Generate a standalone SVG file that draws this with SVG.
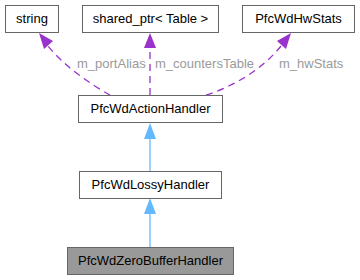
<svg xmlns="http://www.w3.org/2000/svg" width="360" height="280" viewBox="0 0 360 280">
  <style>
    .box { fill: #ffffff; stroke: #666666; stroke-width: 1; }
    .box.sel { fill: #999999; }
    .name { font-family: "Liberation Sans", Arial, sans-serif; font-size: 13px; fill: #000000; text-anchor: middle; }
    .lbl { font-family: "Liberation Sans", Arial, sans-serif; font-size: 13px; fill: #9a9a9a; }
    .use { fill: none; stroke: #9a32cd; stroke-width: 1.3; stroke-dasharray: 7,5; }
    .inh { fill: none; stroke: #63b8ff; stroke-width: 1.3; }
  </style>
  <defs>
    <marker id="headUse" viewBox="0 0 10 10" refX="10" refY="5" markerWidth="10" markerHeight="10" markerUnits="userSpaceOnUse" orient="auto">
      <path d="M0,0 L10,5 L0,10 Z" fill="#9a32cd"/>
    </marker>
  </defs>
  <rect width="360" height="280" fill="#ffffff"/>

  <g id="connectors">
    <!-- usage relations (dashed) -->
    <path class="use" d="M110,95 C90,84 64,66 48,46"/>
    <polygon points="39,33 53,41 44,49" fill="#9a32cd"/>
    <path class="use" d="M150,95 L150,47"/>
    <polygon points="150,33 156,48 144,48" fill="#9a32cd"/>
    <path class="use" d="M206,95 C232,87 262,70 281,46"/>
    <polygon points="291,33 286,49 277,41" fill="#9a32cd"/>
    <text class="lbl" x="77" y="68">m_portAlias</text>
    <text class="lbl" x="155" y="68">m_countersTable</text>
    <text class="lbl" x="279" y="68">m_hwStats</text>
    <!-- inheritance -->
    <path class="inh" d="M150,172 L150,137"/>
    <polygon points="150,123 156,139 144,139" fill="#63b8ff"/>
    <path class="inh" d="M150,248 L150,212"/>
    <polygon points="150,198 156,214 144,214" fill="#63b8ff"/>
  </g>

  <g id="node-string">
    <rect class="box" x="5.5" y="5.5" width="53" height="27"/>
    <text class="name" x="32" y="23">string</text>
  </g>
  <g id="node-shared-ptr">
    <rect class="box" x="82.5" y="5.5" width="136" height="27"/>
    <text class="name" x="150.5" y="23">shared_ptr&lt; Table &gt;</text>
  </g>
  <g id="node-hwstats">
    <rect class="box" x="242.5" y="5.5" width="112" height="27"/>
    <text class="name" x="298.5" y="23">PfcWdHwStats</text>
  </g>
  <g id="node-action">
    <rect class="box" x="78.5" y="95.5" width="144" height="27"/>
    <text class="name" x="150.5" y="113">PfcWdActionHandler</text>
  </g>
  <g id="node-lossy">
    <rect class="box" x="79.5" y="171.5" width="142" height="27"/>
    <text class="name" x="150.5" y="189">PfcWdLossyHandler</text>
  </g>
  <g id="node-zerobuffer">
    <rect class="box sel" x="67.5" y="247.5" width="166" height="27"/>
    <text class="name" x="150.5" y="265">PfcWdZeroBufferHandler</text>
  </g>
</svg>
